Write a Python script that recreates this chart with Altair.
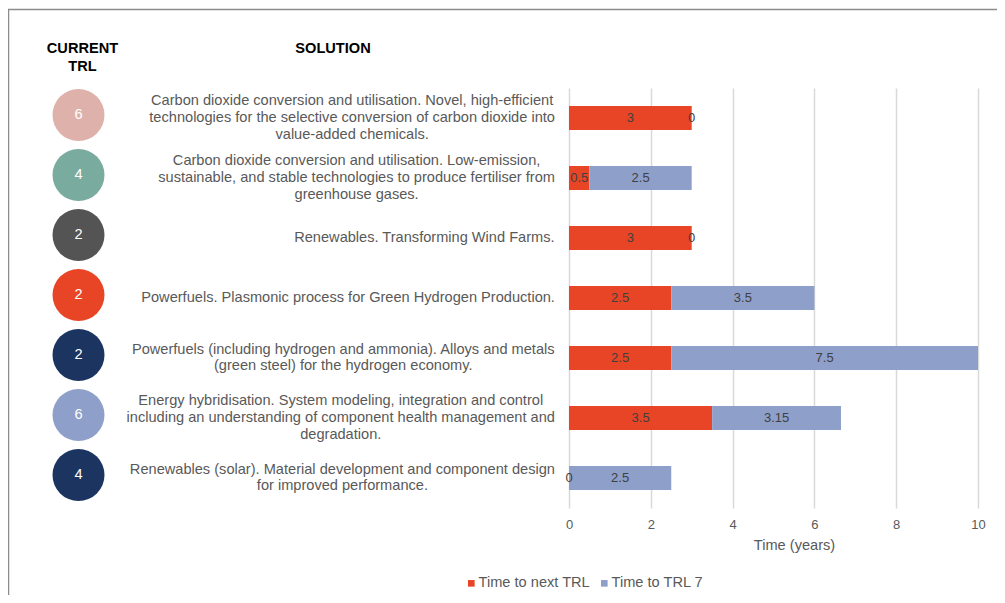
import altair as alt
import pandas as pd

# ---------------- data ----------------
solution_lines = [
    ["Carbon dioxide conversion and utilisation. Novel, high-efficient",
     "technologies for the selective conversion of carbon dioxide into",
     "value-added chemicals."],
    ["Carbon dioxide conversion and utilisation. Low-emission,",
     "sustainable, and stable technologies to produce fertiliser from",
     "greenhouse gases."],
    ["Renewables. Transforming Wind Farms."],
    ["Powerfuels. Plasmonic process for Green Hydrogen Production."],
    ["Powerfuels (including hydrogen and ammonia). Alloys and metals",
     "(green steel) for the hydrogen economy."],
    ["Energy hybridisation. System modeling, integration and control",
     "including an understanding of component health management and",
     "degradation."],
    ["Renewables (solar). Material development and component design",
     "for improved performance."],
]
current_trl = [6, 4, 2, 2, 2, 6, 4]
time_next_trl = [3, 0.5, 3, 2.5, 2.5, 3.5, 0]
time_trl7 = [0, 2.5, 0, 3.5, 7.5, 3.15, 2.5]
series_names = ["Time to next TRL", "Time to TRL 7"]
header_trl = "CURRENT\nTRL"
header_solution = "SOLUTION"
x_ticks = [0, 2, 4, 6, 8, 10]

# ---------------- styles ----------------
FONT = "Liberation Sans"
FS = 14.6
LH = 16.8
PLOT_H = 420
series_colors = ["#E84526", "#8E9FCA"]
circle_colors = ["#DFB1AB", "#7AAB9F", "#545454", "#E84526", "#1B3460", "#8E9FCA", "#1B3460"]
TEXT_GRAY = "#595959"

# Helvetica/Arial advance widths (per 1000 em) to right-justify centred text blocks
W = {' ': 278, '(': 333, ')': 333, ',': 278, '-': 333, '.': 278,
     'A': 667, 'B': 667, 'C': 722, 'D': 722, 'E': 667, 'F': 611, 'G': 778, 'H': 722,
     'I': 278, 'J': 500, 'K': 667, 'L': 556, 'M': 833, 'N': 722, 'O': 778, 'P': 667,
     'Q': 778, 'R': 722, 'S': 667, 'T': 611, 'U': 722, 'V': 667, 'W': 944, 'X': 667,
     'Y': 667, 'Z': 611,
     'a': 556, 'b': 556, 'c': 500, 'd': 556, 'e': 556, 'f': 278, 'g': 556, 'h': 556,
     'i': 222, 'j': 222, 'k': 500, 'l': 222, 'm': 833, 'n': 556, 'o': 556, 'p': 556,
     'q': 556, 'r': 333, 's': 500, 't': 278, 'u': 556, 'v': 500, 'w': 722, 'x': 500,
     'y': 500, 'z': 500}


def text_width(s, size):
    return sum(W.get(c, 556) for c in s) / 1000.0 * size


RIGHT_EDGE = -14  # right edge of label blocks, relative to plot origin
half_band = PLOT_H / len(solution_lines) / 2

rows = list(range(len(solution_lines)))
labels_df = pd.DataFrame({
    "row": rows,
    "label": ["\n".join(l) for l in solution_lines],
    "cx": [RIGHT_EDGE - max(text_width(s, FS) for s in l) / 2 for l in solution_lines],
    "dy": [half_band - (len(l) - 1) / 2 * LH for l in solution_lines],
    "trl": [str(t) for t in current_trl],
    "circle": [f"c{i}" for i in rows],
})

bar_rows = []
for i in rows:
    for k, (name, vals) in enumerate(zip(series_names, [time_next_trl, time_trl7])):
        bar_rows.append({"row": i, "series": name, "order": k,
                         "value": vals[i], "vlabel": f"{vals[i]:g}"})
bars_df = pd.DataFrame(bar_rows)

y_enc = alt.Y("row:O", axis=None, scale=alt.Scale(paddingInner=0, paddingOuter=0))

frame = alt.Chart(pd.DataFrame({"f": [0]})).mark_rect(
    filled=False, stroke="#8C8C8C", strokeWidth=1.5
).encode(x=alt.value(-560.5), x2=alt.value(1000), y=alt.value(-78.5), y2=alt.value(1000))

hdr1 = alt.Chart(pd.DataFrame({"t": [header_trl]})).mark_text(
    font=FONT, fontSize=FS, fontWeight="bold", color="black", lineBreak="\n",
    lineHeight=18.5, align="center", baseline="middle"
).encode(text="t:N", x=alt.value(-486.5), y=alt.value(-39.5))

hdr2 = alt.Chart(pd.DataFrame({"t": [header_solution]})).mark_text(
    font=FONT, fontSize=FS, fontWeight="bold", color="black",
    align="center", baseline="middle"
).encode(text="t:N", x=alt.value(-236), y=alt.value(-39.5))

circles = alt.Chart(labels_df).mark_circle(size=2704, opacity=1, yOffset=-3).encode(
    x=alt.value(-490.5), y=y_enc,
    fill=alt.Fill("circle:N", scale=alt.Scale(domain=labels_df["circle"].tolist(), range=circle_colors), legend=None),
)

circle_text = alt.Chart(labels_df).mark_text(
    font=FONT, fontSize=FS, color="white", align="center", baseline="middle", yOffset=-3
).encode(x=alt.value(-490.5), y=y_enc, text="trl:N")

sol_text = alt.Chart(labels_df).mark_text(
    font=FONT, fontSize=FS, color=TEXT_GRAY, align="center", baseline="middle",
    lineBreak="\n", lineHeight=LH
).encode(x=alt.X("cx:Q", scale=None, axis=None), y=y_enc,
         yOffset=alt.YOffset("dy:Q", scale=None), text="label:N")

base = alt.Chart(bars_df).transform_stack(
    stack="value", groupby=["row"], as_=["x0", "x1"], sort=[alt.SortField("order")]
).transform_calculate(mid="(datum.x0 + datum.x1) / 2")

xscale = alt.Scale(domain=[0, 10], nice=False, zero=True)

bars = base.mark_bar(size=24).encode(
    x=alt.X("x0:Q", scale=xscale, title="Time (years)",
            axis=alt.Axis(values=x_ticks, grid=True, gridColor="#D9D9D9", gridWidth=1.5,
                          domain=False, ticks=False, labelColor=TEXT_GRAY, labelFontSize=13,
                          labelFont=FONT, labelPadding=10, labelFlush=False,
                          titleFont=FONT, titleFontSize=FS, titleX=225, titleAlign="center",
                          titleFontWeight="normal", titleColor=TEXT_GRAY, titlePadding=6)),
    x2="x1:Q",
    y=y_enc,
    color=alt.Color("series:N", scale=alt.Scale(domain=series_names, range=series_colors),
                    sort=series_names,
                    legend=alt.Legend(title=None, orient="none", legendX=-105, legendY=488,
                                      direction="horizontal", symbolType="square",
                                      symbolSize=44, symbolStrokeWidth=0, labelFont=FONT,
                                      labelFontSize=FS, labelColor=TEXT_GRAY, padding=0,
                                      columnPadding=7, labelOffset=0)),
)

bar_text = base.mark_text(
    font=FONT, fontSize=13, color="#404040", align="center", baseline="middle"
).encode(x=alt.X("mid:Q", scale=xscale, axis=None), y=y_enc, text="vlabel:N")

chart = alt.layer(frame, hdr1, hdr2, circles, circle_text, bars, bar_text, sol_text).resolve_scale(
    x="independent"
).properties(
    width=409, height=PLOT_H,
    autosize=alt.AutoSizeParams(type="none"),
    padding={"left": 561, "top": 80, "right": 19, "bottom": 87},
    background="white",
).configure_view(stroke=None)

chart.save("out.html", embed_options={"renderer": "svg", "actions": False})
